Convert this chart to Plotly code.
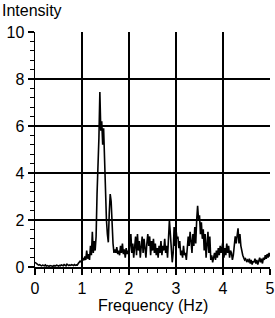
import plotly.graph_objects as go

intensity_0_to_1 = [
    0.20, 0.15, 0.12, 0.10, 0.08, 0.10, 0.07, 0.05, 0.08, 0.06,
    0.05, 0.09, 0.04, 0.06, 0.05, 0.03, 0.06, 0.04, 0.05, 0.03,
    0.06, 0.04, 0.05, 0.08, 0.05, 0.04, 0.07, 0.05, 0.09, 0.06,
    0.05, 0.10, 0.07, 0.05, 0.12, 0.08, 0.06, 0.09, 0.07, 0.10,
    0.08, 0.06, 0.10, 0.07, 0.09, 0.08, 0.15, 0.20, 0.25, 0.22,
]
intensity_1_to_2 = [
    0.30, 0.35, 0.28, 0.45, 0.30, 0.70, 0.35, 0.55, 0.30, 0.90,
    0.50, 1.50, 0.60, 1.10, 0.70, 1.30, 3.10, 4.10, 5.50, 7.45,
    5.80, 6.20, 5.20, 5.90, 4.40, 3.00, 2.00, 1.40, 1.05, 2.30,
    3.10, 2.80, 1.60, 1.00, 0.60, 0.75, 0.60, 0.85, 0.55, 0.70,
    0.50, 0.90, 0.60, 1.00, 0.55, 0.75, 0.40, 0.80, 0.55, 0.70,
]
intensity_2_to_3 = [
    0.50, 0.90, 1.40, 0.60, 1.00, 0.40, 0.80, 1.30, 0.50, 1.40,
    0.70, 1.10, 0.40, 0.90, 1.30, 0.60, 1.20, 0.80, 0.40, 1.00,
    1.40, 0.90, 1.30, 0.50, 1.10, 0.70, 1.20, 0.60, 1.00, 0.50,
    0.80, 0.40, 0.90, 0.60, 1.10, 0.50, 0.90, 0.70, 1.20, 0.60,
    0.90, 0.40, 1.30, 2.00, 1.40, 0.50, 0.20, 0.60, 1.70, 0.90,
]
intensity_3_to_4 = [
    1.60, 1.20, 1.30, 0.80, 1.10, 0.50, 0.70, 0.40, 0.90, 0.50,
    0.60, 0.30, 0.70, 1.30, 0.90, 1.50, 1.10, 0.60, 1.40, 0.90,
    1.70, 1.00, 2.00, 2.60, 2.00, 2.20, 1.40, 1.90, 1.20, 1.60,
    0.70, 1.40, 0.40, 1.00, 1.50, 0.60, 1.30, 0.30, 0.50, 0.20,
    0.40, 0.60, 0.30, 0.70, 0.40, 0.80, 0.50, 0.90, 0.60, 0.80,
]
intensity_4_to_5 = [
    1.10, 0.40, 0.80, 0.50, 1.00, 0.60, 0.90, 0.40, 0.70, 0.60,
    0.30, 0.50, 0.80, 1.30, 1.00, 1.50, 1.65, 1.00, 1.40, 0.90,
    0.60, 0.50, 0.40, 0.30, 0.35, 0.25, 0.30, 0.20, 0.35, 0.15,
    0.30, 0.10, 0.25, 0.20, 0.35, 0.15, 0.30, 0.10, 0.25, 0.40,
    0.20, 0.35, 0.15, 0.40, 0.30, 0.50, 0.35, 0.55, 0.40, 0.60,
    0.45,
]
intensity = (intensity_0_to_1 + intensity_1_to_2 + intensity_2_to_3
             + intensity_3_to_4 + intensity_4_to_5)
freq_step = 0.02
frequency = [round(i * freq_step, 2) for i in range(len(intensity))]

x_ticks = [0, 1, 2, 3, 4, 5]
y_ticks = [0, 2, 4, 6, 8, 10]

FONT = "Liberation Sans, Arial, Helvetica, sans-serif"

fig = go.Figure()
fig.add_trace(go.Scatter(
    x=frequency, y=intensity, mode="lines",
    line=dict(color="black", width=1.6), showlegend=False,
))

axis_common = dict(
    showgrid=True, gridcolor="black", gridwidth=1.3,
    showline=True, linecolor="black", linewidth=1.5,
    ticks="outside", ticklen=6, tickwidth=1.5, tickcolor="black",
    zeroline=False, automargin=False,
    tickfont=dict(family=FONT, size=16, color="black"),
)

fig.update_xaxes(
    range=[0, 5], tickvals=x_ticks, ticktext=[str(v) for v in x_ticks],
    minor=dict(dtick=0.2, ticks="outside", ticklen=4, tickwidth=1.2,
               tickcolor="black", showgrid=False),
    **axis_common,
)
fig.update_yaxes(
    range=[0, 10], tickvals=y_ticks, ticktext=[str(v) for v in y_ticks],
    minor=dict(dtick=0.4, ticks="outside", ticklen=4, tickwidth=1.2,
               tickcolor="black", showgrid=False),
    **axis_common,
)

fig.add_annotation(
    text="Intensity", xref="paper", yref="paper",
    x=-35 / 235, y=(267 - 10) / 235, xanchor="left", yanchor="middle",
    showarrow=False, font=dict(family=FONT, size=16, color="black"),
)
fig.add_annotation(
    text="Frequency (Hz)", xref="paper", yref="paper",
    x=0.5, y=(267 - 305) / 235, xanchor="center", yanchor="middle",
    showarrow=False, font=dict(family=FONT, size=16, color="black"),
)

fig.update_layout(
    width=275, height=318,
    margin=dict(l=35, r=5, t=32, b=51, autoexpand=False),
    paper_bgcolor="white", plot_bgcolor="white",
)

fig.write_html(
    "out.html",
    config={"displayModeBar": False, "staticPlot": True},
    post_script="document.body.style.margin='0';document.body.style.overflow='hidden';",
)
